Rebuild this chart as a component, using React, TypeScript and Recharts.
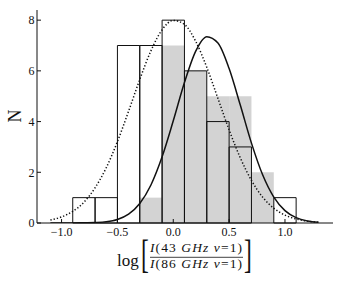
import React from "react"
import {
  ComposedChart,
  Line,
  XAxis,
  YAxis,
  ReferenceArea
} from "recharts"

// histogram bins (left edges, width 0.2)
const grayBinStarts = [-0.3, -0.1, 0.1, 0.3, 0.5, 0.7]
const grayCounts = [1, 7, 6, 5, 5, 2]

const outlineBinStarts = [-0.9, -0.7, -0.5, -0.3, -0.1, 0.1, 0.3, 0.5, 0.7, 0.9]
const outlineCounts = [1, 1, 7, 7, 8, 6, 4, 3, 0, 1]
const binWidth = 0.2

// fitted curves
const curveX = [
  -1.1, -1.0, -0.9, -0.8, -0.7, -0.6, -0.5, -0.4, -0.3, -0.2, -0.1, 0.0, 0.1,
  0.2, 0.3, 0.4, 0.5, 0.6, 0.7, 0.8, 0.9, 1.0, 1.1, 1.2, 1.3
]
const dottedFit = [
  0.12, 0.24, 0.46, 0.82, 1.39, 2.18, 3.21, 4.41, 5.66, 6.79, 7.62, 7.99, 7.83,
  7.17, 6.14, 4.91, 3.67, 2.57, 1.68, 1.02, 0.58, 0.31, 0.16, 0.07, 0.03
]
const solidFit = [
  0.0, 0.0, 0.0, 0.01, 0.02, 0.05, 0.14, 0.35, 0.77, 1.5, 2.61, 4.03, 5.54,
  6.77, 7.35, 7.1, 6.09, 4.65, 3.15, 1.9, 1.02, 0.49, 0.21, 0.08, 0.03
]

const xTicks = [-1.0, -0.5, 0.0, 0.5, 1.0]
const yTicks = [0, 2, 4, 6, 8]

const data = curveX.map((x, i) => ({ x, dotted: dottedFit[i], solid: solidFit[i] }))

const serif = "'Liberation Serif', 'DejaVu Serif', serif"
const tickStyle = { fontFamily: serif, fontSize: 12, fill: "#111" }

const fmtX = (v: number) => (v < 0 ? "\u2212" : "") + Math.abs(v).toFixed(1)

function XLabel() {
  return (
    <g fontFamily={serif} fill="#111">
      <text x={117} y={265.5} fontSize={17}>
        log
      </text>
      <text x={141} y={268} fontSize={39} transform="translate(141 0) scale(0.6 1) translate(-141 0)">
        [
      </text>
      <text x={150} y={252} fontSize={13.5} textLength={92} lengthAdjust="spacing">
        <tspan fontStyle="italic">I</tspan>(43 <tspan fontStyle="italic">GHz</tspan>{" "}
        <tspan fontStyle="italic">v</tspan>=1)
      </text>
      <line x1={150} x2={243} y1={257.3} y2={257.3} stroke="#111" strokeWidth={0.8} />
      <text x={150} y={267.5} fontSize={13.5} textLength={92} lengthAdjust="spacing">
        <tspan fontStyle="italic">I</tspan>(86 <tspan fontStyle="italic">GHz</tspan>{" "}
        <tspan fontStyle="italic">v</tspan>=1)
      </text>
      <text x={244} y={268} fontSize={39} transform="translate(244 0) scale(0.6 1) translate(-244 0)">
        ]
      </text>
    </g>
  )
}

function YLabel() {
  return (
    <text
      x={14.5}
      y={116}
      fontFamily={serif}
      fontSize={18}
      fill="#111"
      textAnchor="middle"
      dominantBaseline="central"
      transform="rotate(-90 14.5 116)"
    >
      N
    </text>
  )
}

export default function App() {
  return (
    <div style={{ position: "absolute", left: 0, top: 0, background: "#fff" }}>
      <ComposedChart
        width={342}
        height={285}
        data={data}
        margin={{ top: 10, right: 9, bottom: 0, left: 0 }}
      >
        <XAxis
          dataKey="x"
          type="number"
          domain={[-1.22, 1.43]}
          allowDataOverflow
          ticks={xTicks}
          tickFormatter={fmtX}
          height={62}
          tickSize={-4}
          tickMargin={8}
          tick={tickStyle}
          stroke="#111"
          axisLine={{ stroke: "#111" }}
          tickLine={{ stroke: "#111" }}
          label={<XLabel />}
        />
        <XAxis
          xAxisId="top"
          orientation="top"
          dataKey="x"
          type="number"
          domain={[-1.22, 1.43]}
          allowDataOverflow
          ticks={xTicks}
          height={0}
          tickSize={-4}
          tick={false}
          axisLine={{ stroke: "#111" }}
          tickLine={{ stroke: "#111" }}
        />
        <YAxis
          type="number"
          domain={[0, 8.4]}
          allowDataOverflow
          ticks={yTicks}
          width={37}
          tickSize={-4}
          tickMargin={6.5}
          tick={tickStyle}
          axisLine={{ stroke: "#111" }}
          tickLine={{ stroke: "#111" }}
          label={<YLabel />}
        />
        <YAxis
          yAxisId="right"
          orientation="right"
          type="number"
          domain={[0, 8.4]}
          allowDataOverflow
          ticks={yTicks}
          width={0}
          tickSize={-4}
          tick={false}
          axisLine={{ stroke: "#111" }}
          tickLine={{ stroke: "#111" }}
        />

        {grayBinStarts.map((x0, i) => (
          <ReferenceArea
            key={"g" + i}
            x1={x0}
            x2={x0 + binWidth}
            y1={0}
            y2={grayCounts[i]}
            fill="#d3d3d3"
            fillOpacity={1}
            stroke="none"
          />
        ))}
        {outlineBinStarts.map((x0, i) =>
          outlineCounts[i] > 0 ? (
            <ReferenceArea
              key={"o" + i}
              x1={x0}
              x2={x0 + binWidth}
              y1={0}
              y2={outlineCounts[i]}
              fill="none"
              fillOpacity={0}
              stroke="#111"
              strokeWidth={1}
            />
          ) : null
        )}

        <Line
          type="monotone"
          dataKey="dotted"
          stroke="#111"
          strokeWidth={1.5}
          strokeDasharray="1.3 2"
          dot={false}
          activeDot={false}
          isAnimationActive={false}
        />
        <Line
          type="monotone"
          dataKey="solid"
          stroke="#111"
          strokeWidth={1.5}
          dot={false}
          activeDot={false}
          isAnimationActive={false}
        />
      </ComposedChart>
    </div>
  )
}
